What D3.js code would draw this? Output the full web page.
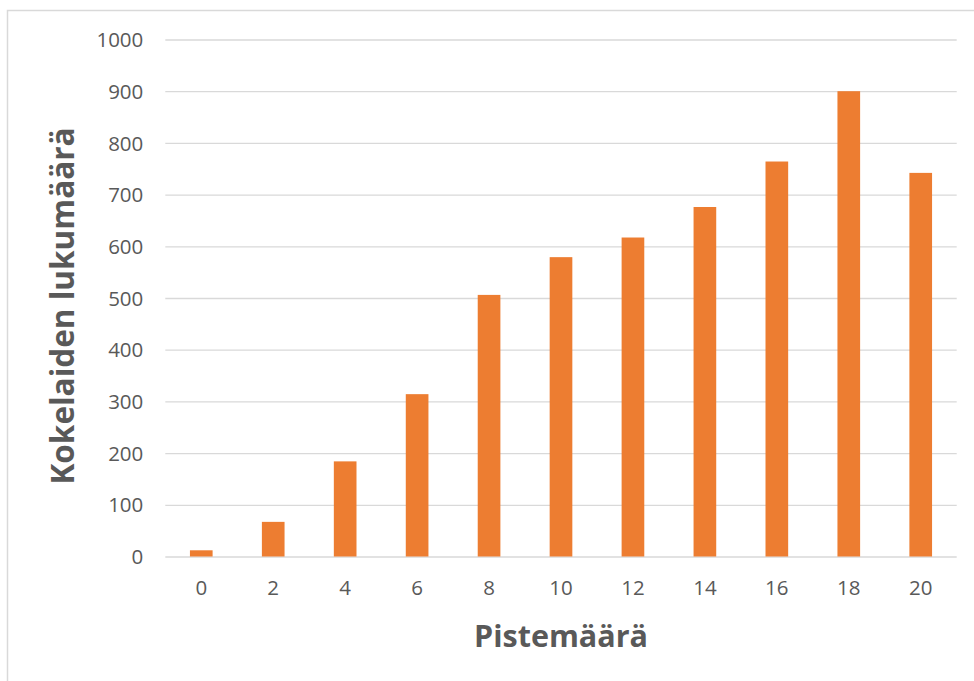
<!DOCTYPE html>
<html>
<head>
<meta charset="utf-8">
<script src="https://cdn.jsdelivr.net/npm/d3@7"></script>
<style>
  html, body { margin: 0; padding: 0; background: #fff; }
  svg { display: block; }
  text { font-family: "Open Sans", "Noto Sans", sans-serif; fill: #595959; }
</style>
</head>
<body>
<svg id="chart" width="974" height="681"></svg>
<script>
// Scores (points) and the number of candidates for each
const scores = ["0", "2", "4", "6", "8", "10", "12", "14", "16", "18", "20"];
const counts = [12, 67, 184, 314, 506, 579, 617, 676, 764, 900, 742];
const yTicks = [0, 100, 200, 300, 400, 500, 600, 700, 800, 900, 1000];
const xTitle = "Pistemäärä";
const yTitle = "Kokelaiden lukumäärä";

const svg = d3.select("#chart");
const W = 974, H = 681;
const plot = { left: 165.3, right: 956.7, top: 39.5, bottom: 556.5 };

// Outer chart frame
svg.append("rect")
  .attr("x", 7.5).attr("y", 10.5)
  .attr("width", W + 20).attr("height", H + 20)
  .attr("fill", "none").attr("stroke", "#d9d9d9").attr("stroke-width", 1.5);

const x = d3.scaleBand()
  .domain(scores)
  .range([plot.left, plot.right])
  .paddingInner(0.685)
  .paddingOuter(0.3425);

const y = d3.scaleLinear()
  .domain([0, 1000])
  .range([plot.bottom, plot.top]);

// Horizontal gridlines with value labels
const yAxis = d3.axisLeft(y)
  .tickValues(yTicks)
  .tickSize(-(plot.right - plot.left))
  .tickPadding(22)
  .tickFormat(d3.format("d"));

const gy = svg.append("g")
  .attr("transform", `translate(${plot.left},0)`)
  .call(yAxis);
gy.select(".domain").remove();
gy.selectAll(".tick line").attr("stroke", "#d9d9d9").attr("stroke-width", 1.3);
gy.selectAll(".tick text")
  .attr("fill", "#595959")
  .style("font-size", "20.5px")
  .attr("dy", "0.35em");

// Bars
svg.append("g")
  .selectAll("rect")
  .data(counts)
  .join("rect")
  .attr("x", (d, i) => x(scores[i]))
  .attr("y", d => y(d))
  .attr("width", x.bandwidth())
  .attr("height", d => y(0) - y(d))
  .attr("fill", "#ed7d31");

// Category labels under the bars
const xAxis = d3.axisBottom(x).tickSize(0).tickPadding(24);
const gx = svg.append("g")
  .attr("transform", `translate(0,${plot.bottom})`)
  .call(xAxis);
gx.select(".domain").remove();
gx.selectAll(".tick text")
  .attr("fill", "#595959")
  .style("font-size", "20.5px");

// Axis titles
svg.append("text")
  .attr("x", (plot.left + plot.right) / 2)
  .attr("y", 647)
  .attr("text-anchor", "middle")
  .style("font-size", "30.5px")
  .style("font-weight", "bold")
  .text(xTitle);

svg.append("text")
  .attr("transform", "translate(74,306) rotate(-90)")
  .attr("text-anchor", "middle")
  .style("font-size", "31.5px")
  .style("font-weight", "bold")
  .text(yTitle);
</script>
</body>
</html>
